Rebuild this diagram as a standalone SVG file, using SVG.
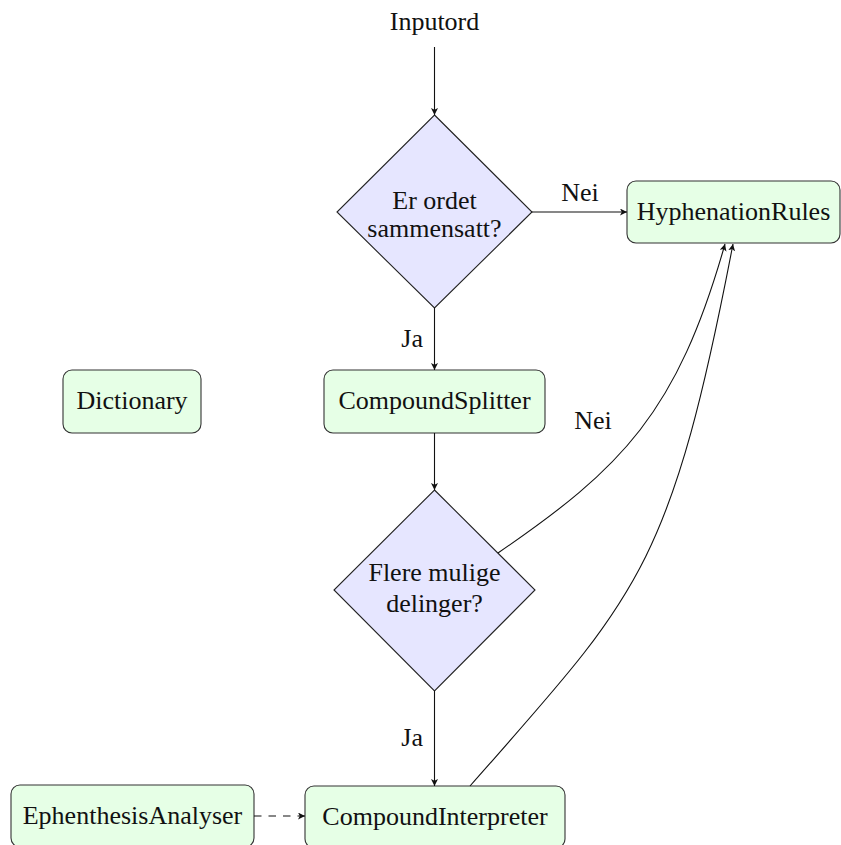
<svg xmlns="http://www.w3.org/2000/svg" width="841" height="845" viewBox="0 0 841 845">
<defs>
<style>
text{font-family:"Liberation Serif","Times New Roman",serif;font-size:26px;fill:#111;}
.c{text-anchor:middle;}
.box{fill:#e6ffe6;stroke:#333;stroke-width:1.1;}
.dia{fill:#e6e6ff;stroke:#222;stroke-width:1.1;}
.edge{fill:none;stroke:#111;stroke-width:1.1;marker-end:url(#ah);}
.dash{stroke-dasharray:7.5 7;}
</style>
<marker id="ah" markerUnits="userSpaceOnUse" markerWidth="10" markerHeight="10" refX="7" refY="3.5" orient="auto">
<path d="M0,0 L7,3.5 L0,7 L1.8,3.5 Z" fill="#111"/>
</marker>
</defs>
<text class="c" x="434.5" y="30">Inputord</text>
<g id="decision1">
<polygon class="dia" points="434.5,115 532,212 434.5,308 337,212"/>
<text class="c" x="434.5" y="209">Er ordet</text>
<text class="c" x="434.5" y="237">sammensatt?</text>
</g>
<g id="hyphenationrules">
<rect class="box" x="627" y="181" width="213" height="62" rx="9"/>
<text class="c" x="733.5" y="220">HyphenationRules</text>
</g>
<g id="dictionary">
<rect class="box" x="63" y="370" width="138" height="63" rx="9"/>
<text class="c" x="132" y="409">Dictionary</text>
</g>
<g id="compoundsplitter">
<rect class="box" x="324" y="370" width="221" height="63" rx="9"/>
<text class="c" x="434.5" y="409">CompoundSplitter</text>
</g>
<g id="decision2">
<polygon class="dia" points="434.5,490 535,590 434.5,691 334,590"/>
<text class="c" x="434.5" y="581">Flere mulige</text>
<text class="c" x="434.5" y="612">delinger?</text>
</g>
<g id="ephenthesisanalyser">
<rect class="box" x="11" y="785" width="243" height="62" rx="9"/>
<text class="c" x="132.5" y="824">EphenthesisAnalyser</text>
</g>
<g id="compoundinterpreter">
<rect class="box" x="305" y="786" width="260" height="62" rx="9"/>
<text class="c" x="435" y="825">CompoundInterpreter</text>
</g>
<g id="connectors">
<path class="edge" d="M434.5,47 L434.5,115"/>
<path class="edge" d="M532,212 L627,212"/>
<path class="edge" d="M434.5,308 L434.5,370"/>
<path class="edge" d="M434.5,433 L434.5,490"/>
<path class="edge" d="M434.5,691 L434.5,786"/>
<path class="edge" d="M498,553 C622,468 677,413 725,244"/>
<path class="edge" d="M470,786 C638,595 670,571 733,244"/>
<path class="edge dash" d="M254,816 L305,816"/>
<text class="c" x="580" y="201">Nei</text>
<text x="423" y="347" text-anchor="end">Ja</text>
<text class="c" x="593" y="429">Nei</text>
<text x="423" y="746" text-anchor="end">Ja</text>
</g>
</svg>
